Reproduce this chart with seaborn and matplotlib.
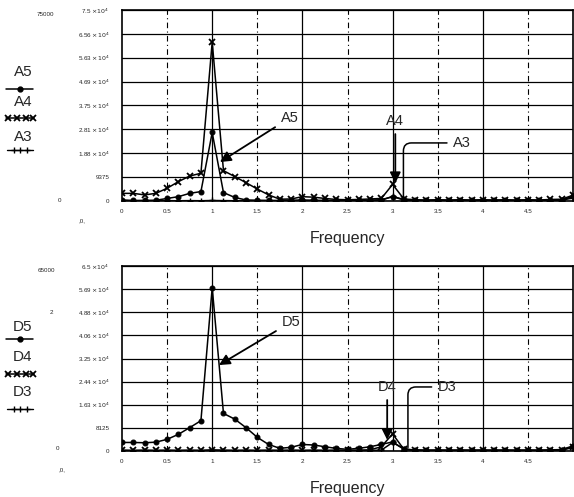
import matplotlib
matplotlib.use("Agg")
import matplotlib.pyplot as plt
import seaborn as sns
import pandas as pd

sns.set_style("white")
plt.rcParams['font.family'] = ['Liberation Sans', 'DejaVu Sans']

# ---------------- data ----------------
freq = [0, 0.125, 0.25, 0.375, 0.5, 0.625, 0.75, 0.875, 1.0, 1.125, 1.25, 1.375,
        1.5, 1.625, 1.75, 1.875, 2.0, 2.125, 2.25, 2.375, 2.5, 2.625, 2.75, 2.875,
        3.0, 3.125, 3.25, 3.375, 3.5, 3.625, 3.75, 3.875, 4.0, 4.125, 4.25, 4.375,
        4.5, 4.625, 4.75, 4.875, 5.0]

A5 = [400, 200, 200, 300, 1000, 1700, 3000, 3700, 26900, 3300, 1400, 400, 300, 200,
      200, 300, 400, 300, 200, 200, 200, 200, 300, 500, 1700, 400, 200, 200, 200, 200,
      200, 200, 200, 200, 200, 200, 200, 200, 300, 400, 1800]
A4 = [3000, 3000, 2400, 3000, 5000, 7600, 9800, 10900, 62400, 11900, 9600, 7200, 4700,
      2400, 700, 800, 1700, 1500, 1000, 600, 500, 600, 800, 1000, 6500, 800, 500, 400,
      500, 400, 500, 400, 500, 400, 500, 400, 500, 400, 600, 700, 2300]
A3 = [150, 100, 150, 100, 150, 100, 150, 100, 200, 150, 100, 150, 100, 150, 100, 150,
      100, 150, 100, 150, 100, 150, 200, 300, 1800, 600, 150, 100, 150, 100, 150, 100,
      150, 100, 150, 100, 150, 100, 150, 300, 1200]

D5 = [3000, 3000, 2900, 3100, 4100, 5850, 8200, 10650, 57400, 13200, 11200, 8200, 4800,
      2300, 940, 1300, 2300, 2100, 1500, 900, 600, 940, 1500, 2300, 3200, 600, 400, 300,
      300, 300, 300, 300, 300, 300, 300, 300, 300, 300, 400, 500, 1800]
D4 = [300, 250, 300, 250, 300, 250, 300, 250, 400, 300, 250, 300, 250, 300, 250, 300,
      250, 300, 250, 300, 250, 300, 400, 1500, 6000, 600, 300, 250, 300, 250, 300, 250,
      300, 250, 300, 250, 300, 250, 300, 400, 1500]
D3 = [150, 100, 150, 100, 150, 100, 150, 100, 200, 150, 100, 150, 100, 150, 100, 150,
      100, 150, 100, 150, 100, 150, 200, 300, 3000, 800, 150, 100, 150, 100, 150, 100,
      150, 100, 150, 100, 150, 100, 150, 300, 1200]

x_ticks = [0, 0.5, 1, 1.5, 2, 2.5, 3, 3.5, 4, 4.5]
x_ticklabels = ["0", "0.5", "1", "1.5", "2", "2.5", "3", "3.5", "4", "4.5"]

top_yticks = [0, 9375, 18750, 28125, 37500, 46875, 56250, 65625, 75000]
top_yticklabels = ["0", "9375", r"1.88 $\times10^{4}$", r"2.81 $\times10^{4}$",
                   r"3.75 $\times10^{4}$", r"4.69 $\times10^{4}$", r"5.63 $\times10^{4}$",
                   r"6.56 $\times10^{4}$", r"7.5 $\times10^{4}$"]
bot_yticks = [0, 8125, 16250, 24375, 32500, 40625, 48750, 56875, 65000]
bot_yticklabels = ["0", "8125", r"1.63 $\times10^{4}$", r"2.44 $\times10^{4}$",
                   r"3.25 $\times10^{4}$", r"4.06 $\times10^{4}$", r"4.88 $\times10^{4}$",
                   r"5.69 $\times10^{4}$", r"6.5 $\times10^{4}$"]

top_names = ["A5", "A4", "A3"]
bot_names = ["D5", "D4", "D3"]

# ---------------- figure ----------------
W, H = 574, 497
fig = plt.figure(figsize=(W / 100, H / 100), dpi=100)
fig.patch.set_facecolor("white")


def px_rect(l, t, r, b):
    return [l / W, 1 - b / H, (r - l) / W, (b - t) / H]


ax_top = fig.add_axes(px_rect(122, 10, 573, 201))
ax_bot = fig.add_axes(px_rect(122, 266, 573, 451))

styles = [dict(marker="o", markersize=3.5, markeredgewidth=0.8),
          dict(marker="x", markersize=5, markeredgewidth=1.3),
          dict(marker="+", markersize=5, markeredgewidth=1.0)]


def draw(ax, series, names, yticks, yticklabels, ymax):
    for vals, name, st in zip(series, names, styles):
        df = pd.DataFrame({"Frequency": freq, "value": vals})
        sns.lineplot(data=df, x="Frequency", y="value", ax=ax, color="black",
                     linewidth=1.1, markeredgecolor="black", markerfacecolor="black",
                     **st)
    ax.set_xlim(0, 5)
    ax.set_ylim(0, ymax)
    ax.set_xticks(x_ticks)
    ax.set_xticklabels(x_ticklabels, fontsize=4.5)
    ax.set_yticks(yticks)
    ax.set_yticklabels(yticklabels, fontsize=4.5)
    ax.tick_params(axis="y", length=0, pad=9)
    ax.tick_params(axis="x", length=0, pad=6)
    ax.yaxis.grid(True, color="black", linewidth=0.9)
    for t in x_ticks[1:]:
        if abs(t - round(t)) > 0.01:
            ax.axvline(t, color="black", linewidth=0.8, linestyle=(0, (5, 3, 1, 3)),
                       zorder=0)
        else:
            ax.axvline(t, color="black", linewidth=0.9, zorder=0)
    ax.set_axisbelow(True)
    for s in ax.spines.values():
        s.set_color("black")
        s.set_linewidth(1.2)
    ax.set_ylabel("")
    ax.set_xlabel("Frequency", fontsize=11.5, labelpad=12)


draw(ax_top, [A5, A4, A3], top_names, top_yticks, top_yticklabels, 75000)
draw(ax_bot, [D5, D4, D3], bot_names, bot_yticks, bot_yticklabels, 65000)

arrow_kw = dict(arrowstyle="-|>", color="black", lw=1.3, mutation_scale=16,
                shrinkA=2, shrinkB=0)

# top annotations
ax_top.annotate("A5", xy=(1.086, 15300), xytext=(1.76, 32600), fontsize=10.5,
                va="center", ha="left", arrowprops=arrow_kw)
ax_top.annotate("A4", xy=(3.03, 7000), xytext=(3.03, 31400), fontsize=10.5,
                va="center", ha="center", arrowprops=arrow_kw)
ax_top.annotate("A3", xy=(3.12, 1500), xytext=(3.67, 22800), fontsize=10.5,
                va="center", ha="left",
                arrowprops=dict(arrowstyle="-", color="black", lw=1.1, shrinkA=2,
                                shrinkB=0,
                                connectionstyle="angle,angleA=0,angleB=90,rad=8"))
# bottom annotations
ax_bot.annotate("D5", xy=(1.075, 30200), xytext=(1.77, 45300), fontsize=10.5,
                va="center", ha="left", arrowprops=arrow_kw)
ax_bot.annotate("D4", xy=(2.94, 3900), xytext=(2.94, 22500), fontsize=10.5,
                va="center", ha="center", arrowprops=arrow_kw)
ax_bot.annotate("D3", xy=(3.17, 1200), xytext=(3.50, 22500), fontsize=10.5,
                va="center", ha="left",
                arrowprops=dict(arrowstyle="-", color="black", lw=1.1, shrinkA=2,
                                shrinkB=0,
                                connectionstyle="angle,angleA=0,angleB=90,rad=8"))

# overlay in pixel coordinates for side legend and stray labels
ov = fig.add_axes([0, 0, 1, 1], zorder=-1)
ov.set_xlim(0, W)
ov.set_ylim(H, 0)
ov.axis("off")


def side_legend(names, ys_text, ys_line):
    for name, yt, yl, st in zip(names, ys_text, ys_line, styles):
        ov.text(23, yt, name, fontsize=11, ha="center", va="center")
        if st["marker"] == "o":
            ov.plot([6, 33], [yl, yl], color="black", lw=1.1)
            ov.plot([19.5], [yl], color="black", marker="o", markersize=3.5, lw=0)
        elif st["marker"] == "x":
            ov.plot([6, 34], [yl, yl], color="black", lw=1.1)
            ov.plot([8, 17, 26, 33], [yl] * 4, color="black", marker="x",
                    markersize=4, markeredgewidth=1.3, lw=0)
        else:
            ov.plot([7, 33], [yl, yl], color="black", lw=1.0)
            ov.plot([14, 20, 27], [yl] * 3, color="black", marker="+",
                    markersize=4, markeredgewidth=1.0, lw=0)


side_legend(top_names, [72, 102, 137], [89, 118, 150])
side_legend(bot_names, [327, 357, 392], [339, 374, 409])

small = dict(fontsize=4.5, ha="center", va="center")
ov.text(45, 14, "75000", **small)
ov.text(59, 200, "0", **small)
ov.text(82, 221, ",0,", **small)
ov.text(46, 271, "65000", **small)
ov.text(51, 312, "2", **small)
ov.text(58, 449, "0", **small)
ov.text(62, 470, ",0,", **small)

fig.savefig("out.png", dpi=100, facecolor="white")
